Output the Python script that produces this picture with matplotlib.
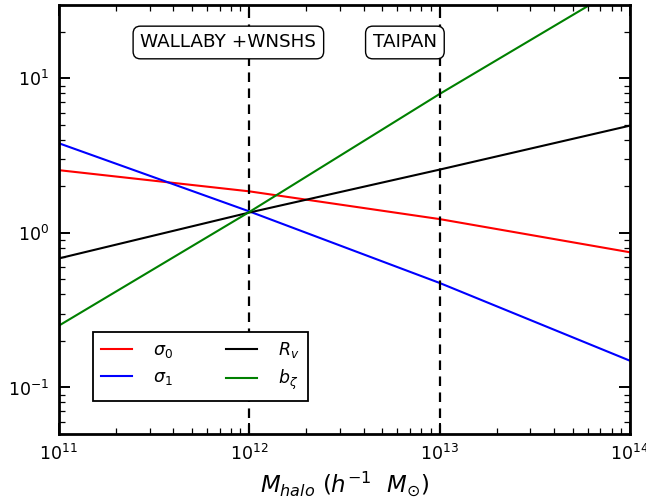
import matplotlib
matplotlib.use("Agg")
import matplotlib.pyplot as plt
import numpy as np

# ---- data ----
mass = [1e11, 1e12, 1e13, 1e14]
sigma0 = [2.55, 1.86, 1.23, 0.75]
sigma1 = [3.81, 1.38, 0.475, 0.149]
Rv = [0.684, 1.355, 2.57, 4.95]
b_zeta = [0.251, 1.365, 7.93, 42.7]
survey_mass = [1e12, 1e13]
survey_labels = ["WALLABY +WNSHS", "TAIPAN"]
series_labels = [r"$\sigma_0$", r"$\sigma_1$", r"$R_v$", r"$b_\zeta$"]

fig = plt.figure(figsize=(6.46, 5.01), dpi=100)
ax = fig.add_axes([0.0909, 0.1337, 0.8843, 0.8569])

colors = ["#ff0000", "#0000ff", "#000000", "#008000"]
for vals, lab, c in zip([sigma0, sigma1, Rv, b_zeta], series_labels, colors):
    ax.plot(mass, vals, color=c, lw=1.5, label=lab)

for m in survey_mass:
    ax.axvline(m, color="k", lw=1.6, linestyle=(0, (4.3, 2.9)))

ax.set_xscale("log")
ax.set_yscale("log")
ax.set_xlim(1e11, 1e14)
ax.set_ylim(0.05, 30)

for sp in ax.spines.values():
    sp.set_linewidth(2.0)
ax.tick_params(which="both", direction="in", top=True, right=True)
ax.tick_params(which="major", length=8, width=1.4, labelsize=12.5, pad=7)
ax.tick_params(which="minor", length=4, width=0.9)

ax.set_xlabel(r"$M_{halo}\ (h^{-1}\ \ M_{\odot})$", fontsize=16.5, labelpad=4)

box = dict(boxstyle="round,pad=0.4", facecolor="white", edgecolor="black", lw=1.0)
for xf, lab in zip([0.297, 0.606], survey_labels):
    ax.text(xf, 0.912, lab, transform=ax.transAxes, ha="center", va="center",
            fontsize=13.2, bbox=box)

leg = ax.legend(ncol=2, loc="lower left", bbox_to_anchor=(0.0595, 0.0769),
                borderaxespad=0, fontsize=12.5, fancybox=False, frameon=True,
                handlelength=1.75, handletextpad=1.2, columnspacing=3.1,
                labelspacing=0.45, borderpad=0.5)
fr = leg.get_frame()
fr.set_edgecolor("black")
fr.set_linewidth(1.3)
fr.set_alpha(1)

fig.savefig("out.png", dpi=100)
